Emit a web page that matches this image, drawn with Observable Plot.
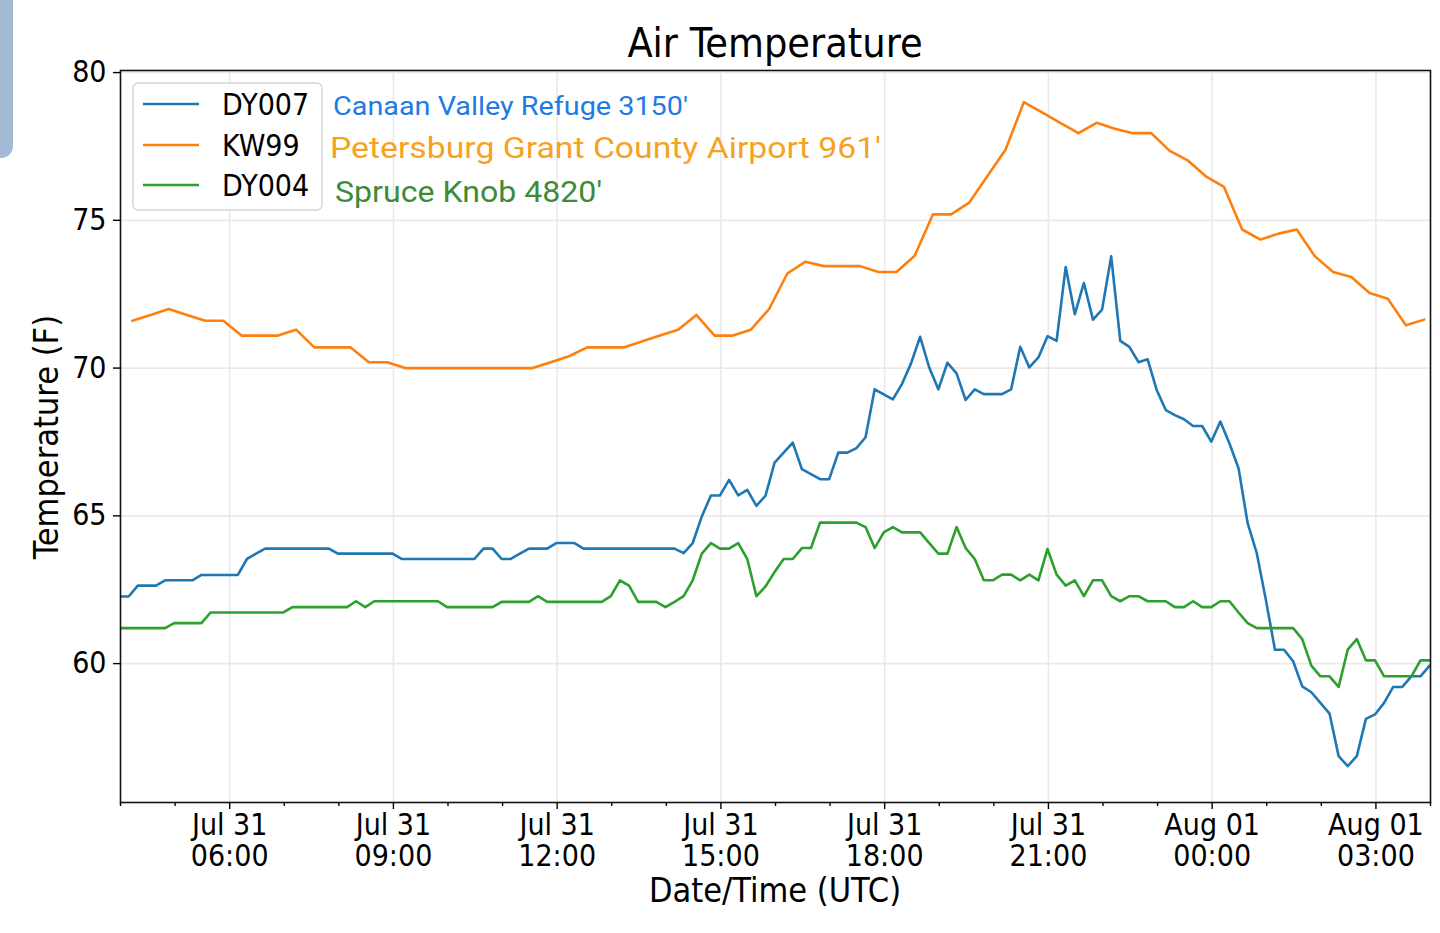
<!DOCTYPE html>
<html>
<head>
<meta charset="utf-8">
<script src="https://cdn.jsdelivr.net/npm/d3@7"></script>
<script src="https://cdn.jsdelivr.net/npm/@observablehq/plot@0.6"></script>
<style>
  html, body { margin: 0; padding: 0; background: #fff; }
  #wrap { position: relative; width: 1440px; height: 933px; overflow: hidden; }
  #tab { position: absolute; left: 0; top: 0; width: 13px; height: 158px; background: #a2bad3; border-bottom-right-radius: 12px; }
</style>
</head>
<body>
<div id="wrap"><div id="tab"></div></div>
<script>
// ---- data ----
const seriesNames = ["DY007", "KW99", "DY004"];
const seriesColors = ["#1f77b4", "#ff7f0e", "#2ca02c"];
const stationLabels = ["Canaan Valley Refuge 3150'", "Petersburg Grant County Airport 961'", "Spruce Knob 4820'"];
const labelColors = ["#1e7be6", "#f7a21f", "#3d8b37"];

// DY007 / DY004: every 10 minutes starting 03:59 UTC Jul 31
const dy007 = [62.27,62.27,62.64,62.64,62.64,62.82,62.82,62.82,62.82,63.0,63.0,63.0,63.0,63.0,
  63.54,63.72,63.89,63.89,63.89,63.89,63.89,63.89,63.89,63.89,
  63.72,63.72,63.72,63.72,63.72,63.72,63.72,
  63.54,63.54,63.54,63.54,63.54,63.54,63.54,63.54,63.54,
  63.89,63.89,63.54,63.54,63.72,63.89,63.89,63.89,64.08,64.08,64.08,
  63.89,63.89,63.89,63.89,63.89,63.89,63.89,63.89,63.89,63.89,63.89,
  63.74,64.08,64.98,65.69,65.69,66.22,65.69,65.88,65.34,65.68,
  66.8,67.14,67.48,66.58,66.41,66.24,66.24,67.14,67.14,67.29,67.66,
  69.28,69.11,68.94,69.46,70.16,71.06,70.02,69.28,70.18,69.82,68.92,69.28,69.12,69.12,69.12,69.28,
  70.72,70.02,70.36,71.08,70.92,73.42,71.82,72.88,71.64,71.98,73.78,70.92,70.72,70.2,70.3,
  69.26,68.58,68.41,68.27,68.04,68.04,67.51,68.19,67.45,66.61,64.75,63.74,62.16,60.47,60.47,60.08,
  59.23,59.03,58.67,58.31,56.87,56.53,56.87,58.13,58.28,58.67,59.21,59.21,59.57,59.57,59.93];

const dy004 = [61.2,61.2,61.2,61.2,61.2,61.2,61.37,61.37,61.37,61.37,
  61.73,61.73,61.73,61.73,61.73,61.73,61.73,61.73,61.73,
  61.91,61.91,61.91,61.91,61.91,61.91,61.91,62.11,61.91,
  62.11,62.11,62.11,62.11,62.11,62.11,62.11,62.11,
  61.91,61.91,61.91,61.91,61.91,61.91,62.09,62.09,62.09,62.09,62.28,
  62.09,62.09,62.09,62.09,62.09,62.09,62.09,62.28,62.82,62.64,62.09,62.09,62.09,
  61.91,62.09,62.28,62.82,63.72,64.08,63.89,63.89,64.08,63.54,62.28,62.61,63.1,63.54,63.54,63.91,63.91,
  64.77,64.77,64.77,64.77,64.77,64.62,63.91,64.44,64.62,64.44,64.44,64.44,64.08,63.72,63.72,64.62,
  63.91,63.54,62.82,62.82,63.01,63.01,62.82,63.01,62.82,63.88,63.01,62.64,62.82,62.28,62.82,62.82,
  62.28,62.11,62.28,62.28,62.11,62.11,62.11,61.91,61.91,62.11,61.91,61.91,62.11,62.11,61.73,61.37,
  61.2,61.2,61.2,61.2,61.2,60.83,59.93,59.57,59.57,59.21,60.47,60.83,60.11,60.11,
  59.57,59.57,59.57,59.57,60.11,60.11];

// KW99: every 20 minutes starting 04:13 UTC Jul 31
const kw99 = [71.6,71.8,72.0,71.8,71.6,71.6,71.1,71.1,71.1,71.3,70.7,70.7,70.7,70.2,70.2,70.0,
  70.0,70.0,70.0,70.0,70.0,70.0,70.0,
  70.2,70.4,70.7,70.7,70.7,70.9,71.1,71.3,71.8,71.1,71.1,71.3,72.0,73.2,73.6,73.45,73.45,73.45,
  73.25,73.25,73.8,75.2,75.2,75.6,76.5,77.4,79.0,78.65,78.3,77.95,78.3,78.1,77.95,77.95,
  77.36,77.03,76.49,76.13,74.69,74.35,74.55,74.69,73.78,73.25,73.08,72.54,72.35,71.45,71.64];

const yTicks = [60, 65, 70, 75, 80];

// ---- build ----
const MIN = 60000;
const t0 = Date.UTC(2019, 6, 31, 4, 0);
const t1 = Date.UTC(2019, 7, 1, 4, 0);
const rows = [];
dy007.forEach((v, i) => rows.push({series: "DY007", time: new Date(t0 + (10 * i - 1) * MIN), value: v}));
kw99.forEach((v, i) => rows.push({series: "KW99", time: new Date(t0 + (13 + 20 * i) * MIN), value: v}));
dy004.forEach((v, i) => rows.push({series: "DY004", time: new Date(t0 + (10 * i - 1) * MIN), value: v}));

const majorTicks = d3.utcHour.every(3).range(new Date(t0), new Date(t1 + 1));
const minorTicks = d3.utcHour.every(1).range(new Date(t0), new Date(t1 + 1))
  .filter(d => d.getUTCHours() % 3 !== 0);
const fmt = d3.utcFormat("%b %d\n%H:%M");
const FONT = "'DejaVu Sans Condensed', 'DejaVu Sans', sans-serif";

const svg = Plot.plot({
  width: 1440,
  height: 933,
  marginLeft: 120,
  marginRight: 10,
  marginTop: 70,
  marginBottom: 131,
  style: {fontFamily: FONT, fontSize: "30px", color: "#000", background: "transparent", overflow: "visible"},
  x: {type: "utc", domain: [new Date(t0), new Date(t1)]},
  y: {domain: [55.3, 80.07]},
  color: {domain: seriesNames, range: seriesColors},
  marks: [
    Plot.gridX({ticks: majorTicks, stroke: "#e9e9e9", strokeOpacity: 1, strokeWidth: 1.6}),
    Plot.gridY({ticks: yTicks, stroke: "#e9e9e9", strokeOpacity: 1, strokeWidth: 1.6}),
    Plot.lineY(rows.filter(d => d.series === "DY007"), {x: "time", y: "value", stroke: "series", strokeWidth: 2.6, clip: true}),
    Plot.lineY(rows.filter(d => d.series === "KW99"), {x: "time", y: "value", stroke: "series", strokeWidth: 2.6, clip: true}),
    Plot.lineY(rows.filter(d => d.series === "DY004"), {x: "time", y: "value", stroke: "series", strokeWidth: 2.6, clip: true}),
    Plot.tickX(minorTicks, {x: d => d, frameAnchor: "bottom", stroke: "#000", strokeWidth: 1.4, insetTop: 0}),
    Plot.axisX({ticks: majorTicks, tickSize: 7, tickPadding: 4, tickFormat: d => fmt(d), lineHeight: 1.03, fontSize: 30, label: null, strokeWidth: 1.4}),
    Plot.axisY({ticks: yTicks, tickSize: 7, tickPadding: 7, fontSize: 30, label: null, strokeWidth: 1.4}),
    Plot.frame({stroke: "#111", strokeWidth: 1.6})
  ]
});
document.getElementById("wrap").appendChild(svg);

const s = d3.select(svg);
// minor tick marks: shorten the tickX marks to 4px below the frame
s.selectAll("line").filter(function () {
  return this.parentNode && this.parentNode.getAttribute("aria-label") === "tick";
}).each(function () {
  d3.select(this).attr("y1", 802).attr("y2", 806);
});
// title
s.append("text").attr("x", 775).attr("y", 57).attr("text-anchor", "middle")
  .style("font-family", FONT).style("font-size", "41px").attr("fill", "#000").text("Air Temperature");
// axis labels
s.append("text").attr("x", 775).attr("y", 902).attr("text-anchor", "middle")
  .style("font-family", FONT).style("font-size", "34px").attr("fill", "#000").text("Date/Time (UTC)");
s.append("text").attr("transform", "translate(58,437) rotate(-90)").attr("text-anchor", "middle")
  .style("font-family", FONT).style("font-size", "34px").attr("fill", "#000").text("Temperature (F)");

// legend
const lg = s.append("g");
lg.append("rect").attr("x", 133).attr("y", 83).attr("width", 189).attr("height", 127).attr("rx", 5)
  .attr("fill", "#fff").attr("fill-opacity", 0.85).attr("stroke", "#d4d4d4").attr("stroke-width", 1.4);
const rowY = [104, 145, 185];
seriesNames.forEach((name, i) => {
  lg.append("line").attr("x1", 143).attr("x2", 199).attr("y1", rowY[i]).attr("y2", rowY[i])
    .attr("stroke", seriesColors[i]).attr("stroke-width", 2.6);
  lg.append("text").attr("x", 222).attr("y", rowY[i] + 11).attr("text-anchor", "start")
    .style("font-family", FONT).style("font-size", "30px").attr("fill", "#000").text(name);
});

// station annotations
const ann = [
  {x: 333, y: 115, size: 26, len: 355},
  {x: 330, y: 158, size: 30, len: 551},
  {x: 335, y: 202, size: 29, len: 267}
];
stationLabels.forEach((txt, i) => {
  s.append("text").attr("x", ann[i].x).attr("y", ann[i].y).attr("text-anchor", "start")
    .attr("textLength", ann[i].len).attr("lengthAdjust", "spacingAndGlyphs")
    .style("font-family", "Roboto, 'Noto Sans', sans-serif").style("font-size", ann[i].size + "px")
    .attr("fill", labelColors[i]).text(txt);
});
</script>
</body>
</html>
